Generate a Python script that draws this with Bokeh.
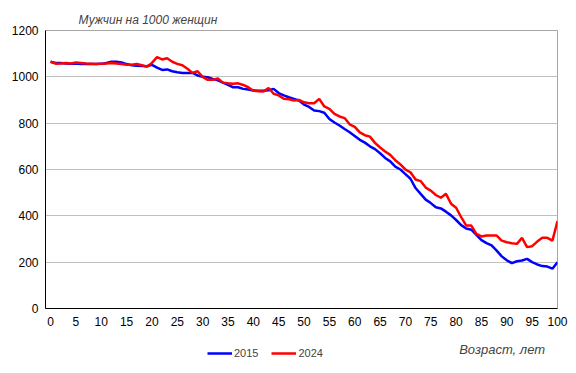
from bokeh.plotting import figure
from bokeh.layouts import column
from bokeh.models import Range1d, FixedTicker, Legend, LegendItem, Title, Label
from bokeh.embed import file_html
from bokeh.resources import INLINE

ages = list(range(0, 101))
men_2015 = [1065, 1060, 1060, 1058, 1057, 1057, 1055, 1055, 1055, 1055,
            1056, 1060, 1065, 1065, 1062, 1055, 1050, 1048, 1047, 1046,
            1052, 1040, 1030, 1032, 1024, 1020, 1017, 1017, 1017, 1006,
            1000, 998, 991, 985, 975, 965, 955, 955, 948, 945,
            941, 940, 940, 942, 948, 930, 920, 912, 905, 898,
            880, 870, 855, 852, 845, 818, 803, 790, 775, 761,
            745, 728, 716, 700, 688, 670, 650, 635, 612, 600,
            580, 560, 520, 495, 470, 455, 437, 432, 418, 402,
            382, 360, 345, 340, 318, 295, 282, 272, 250, 225,
            208, 196, 204, 207, 214, 200, 190, 183, 181, 172,
            200]
men_2024 = [1065, 1057, 1058, 1060, 1058, 1062, 1060, 1058, 1057, 1055,
            1057, 1058, 1060, 1058, 1055, 1052, 1052, 1055, 1050, 1044,
            1060, 1085, 1075, 1080, 1065, 1056, 1050, 1035, 1017, 1024,
            1000, 987, 987, 993, 975, 972, 970, 972, 965, 955,
            940, 938, 937, 952, 927, 920, 905, 903, 898, 900,
            890, 886, 886, 905, 872, 862, 840, 829, 822, 795,
            784, 760, 748, 742, 715, 695, 678, 663, 640, 622,
            600, 588, 557, 550, 522, 509, 490, 478, 495, 452,
            435, 394, 358, 358, 322, 311, 315, 315, 315, 293,
            286, 282, 279, 305, 265, 269, 289, 305, 305, 293,
            377]
x_ticks = list(range(0, 101, 5))
y_ticks = [0, 200, 400, 600, 800, 1000, 1200]
series_names = ["2015", "2024"]
series_colors = ["#0000ff", "#ff0000"]
title_text = "Мужчин на 1000 женщин"
x_title = "Возраст, лет"

FONT = "Liberation Sans"

p = figure(width=570, height=335, output_backend="svg", toolbar_location=None,
           x_range=Range1d(-1, 100), y_range=Range1d(0, 1200),
           min_border_left=45, min_border_right=13, min_border_top=30,
           min_border_bottom=27)

p.background_fill_color = "white"
p.border_fill_color = "white"
p.outline_line_color = "#a6a6a6"
p.outline_line_width = 1

p.xgrid.grid_line_color = None
p.ygrid.grid_line_color = "#c0c0c0"
p.ygrid.grid_line_width = 1
p.yaxis.ticker = FixedTicker(ticks=y_ticks)
p.xaxis.ticker = FixedTicker(ticks=x_ticks)

for ax in (p.xaxis[0], p.yaxis[0]):
    ax.axis_line_color = "black"
    ax.axis_line_width = 1
    ax.major_tick_line_color = None
    ax.minor_tick_line_color = None
    ax.major_tick_out = 0
    ax.major_tick_in = 0
    ax.major_label_text_font = FONT
    ax.major_label_text_font_size = "12px"
    ax.major_label_text_color = "black"
p.xaxis.major_label_standoff = 8
p.yaxis.major_label_standoff = 7

p.line(ages, men_2015, line_color=series_colors[0], line_width=2.5)
p.line(ages, men_2024, line_color=series_colors[1], line_width=2.5)

p.add_layout(Title(text=title_text, align="left", offset=33, standoff=8,
                   text_font=FONT, text_font_size="12px",
                   text_font_style="italic"), "above")

# bottom strip: legend and axis title
p2 = figure(width=570, height=31, output_backend="svg", toolbar_location=None,
            x_range=Range1d(-1, 100), y_range=Range1d(0, 1),
            min_border_left=45, min_border_right=13, min_border_top=0,
            min_border_bottom=0)
p2.axis.visible = False
p2.grid.grid_line_color = None
p2.outline_line_color = None
p2.background_fill_color = "white"
p2.border_fill_color = "white"

# same series (out of this strip's view) only to supply legend glyphs
l1 = p2.line(ages, men_2015, line_color=series_colors[0], line_width=2.5)
l2 = p2.line(ages, men_2024, line_color=series_colors[1], line_width=2.5)
legend = Legend(items=[LegendItem(label=series_names[0], renderers=[l1]),
                       LegendItem(label=series_names[1], renderers=[l2])],
                orientation="horizontal", location=(162, 7),
                background_fill_alpha=0, border_line_color=None,
                label_text_font=FONT, label_text_font_size="11px",
                glyph_width=25, glyph_height=12, label_standoff=2, spacing=13,
                padding=0, margin=0, label_height=12)
p2.add_layout(legend, "center")
p2.add_layout(Label(x=80.6, y=0.55, text=x_title, text_font=FONT,
                    text_font_size="13px", text_font_style="italic",
                    text_baseline="middle", text_align="left"))

open("out.html", "w").write(file_html(column(p, p2, spacing=0), INLINE))
